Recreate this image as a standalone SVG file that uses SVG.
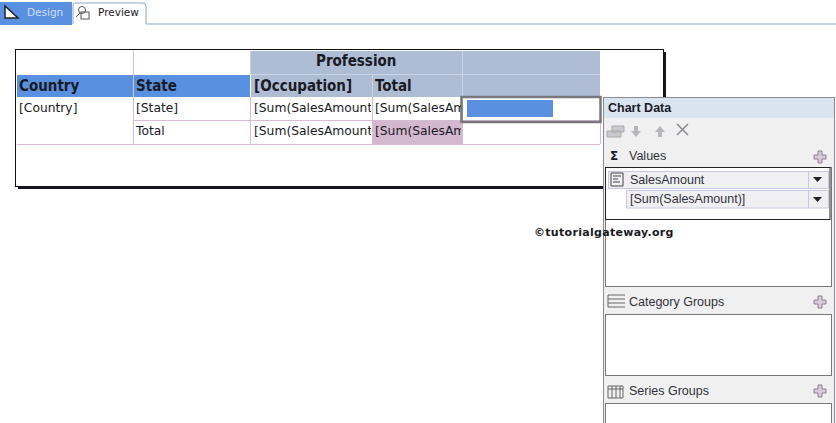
<svg xmlns="http://www.w3.org/2000/svg" width="836" height="423" viewBox="0 0 836 423">
<style>
text{font-family:"DejaVu Sans",sans-serif;fill:#1a1a24}
.b{font-family:"DejaVu Sans Condensed","DejaVu Sans",sans-serif;font-stretch:condensed;font-size:15px;font-weight:bold}
.c{font-size:12.300px}
.p{font-family:"Liberation Sans",sans-serif;font-size:12.500px;fill:#30303a}
.g{stroke:#d6bcd2;stroke-width:1;fill:none}
.w{stroke:#c9d3e3;stroke-width:1;fill:none}
.pl{fill:#d8c8d8;stroke:#8f7f95;stroke-width:1}
.bx{fill:#fff;stroke:#77777c;stroke-width:1}
.ic{fill:none;stroke:#55555c;stroke-width:1}
.row{fill:#f0f0f3;stroke:#c8c8e0}
</style>
<rect width="836" height="423" fill="#fff"/>
<g id="tabs">
<rect x="0" y="2" width="72" height="23" fill="#5a90e0"/>
<path d="M5 6L5 18L18 18Z" fill="#fff" stroke="#222" stroke-width="1.500"/>
<text x="27" y="16" style="font-size:10.500px;fill:#cfdcf2">Design</text>
<path d="M73 24V5Q73 3 75 3H143Q146 3 146 6V24H836" fill="none" stroke="#8fa3bf" stroke-width="1"/>
<circle cx="82" cy="10" r="3.500" class="ic"/><path d="M80 13L76 17" class="ic"/><rect x="81" y="12" width="8" height="7" class="ic"/>
<text x="98" y="16" style="font-size:10.500px">Preview</text>
</g>
<g id="report">
<rect x="18" y="52" width="648" height="137" fill="#16141c"/>
<rect x="15.500" y="49.500" width="648" height="137" fill="#fff" stroke="#111" stroke-width="1"/>
</g>
<g id="table">
<rect x="251" y="51" width="349" height="46" fill="#aebdd4"/>
<rect x="17" y="75" width="233" height="22" fill="#5a90e0"/>
<rect x="372" y="121" width="91" height="23" fill="#d4b8d0"/>
<path class="g" d="M133.500 51V144M17 144.500H600M133 120.500H600M250.500 97V144M372.500 97V144M462.500 97V144M600.500 97V144"/>
<path class="w" d="M251 74.500H600M372.500 74V97M462.500 51V97M250.500 51V75"/>
<rect x="461.500" y="97" width="139" height="25" fill="none" stroke="#77777c" stroke-width="2.500"/>
<rect x="467" y="100" width="86" height="17" fill="#5a90e0"/>
<text x="316" y="66" class="b">Profession</text>
<text x="19" y="91" class="b">Country</text>
<text x="136" y="91" class="b">State</text>
<text x="254" y="91" class="b">[Occupation]</text>
<text x="375" y="91" class="b">Total</text>
<text x="19" y="112" class="c">[Country]</text>
<text x="136" y="112" class="c">[State]</text>
<text x="136" y="135" class="c">Total</text>
<svg x="250" y="97" width="121" height="47" viewBox="250 97 121 47"><text x="254" y="112" class="c">[Sum(SalesAmount)]</text><text x="254" y="135" class="c">[Sum(SalesAmount)]</text></svg>
<svg x="372" y="97" width="89" height="47" viewBox="372 97 89 47"><text x="375" y="112" class="c">[Sum(SalesAmount)]</text><text x="375" y="135" class="c">[Sum(SalesAmount)]</text></svg>
</g>
<g id="chart-data">
<rect x="603.500" y="97.500" width="231" height="326" fill="#f0f0f0" stroke="#8a8a90" stroke-width="1"/>
<rect x="604" y="98" width="230" height="20" fill="#d9e4f1"/>
<text x="608" y="112" style="font-family:'Liberation Sans',sans-serif;font-size:12.500px;font-weight:bold">Chart Data</text>
<path d="M607 131h14v6h-14zM612 126h12v6h-12z" fill="#c8c8d0" stroke="#aaa"/>
<path d="M634 126h4v5h3l-5 6-5-6h3z" fill="#b5b5bb"/>
<path d="M658 137h4v-5h3l-5-6-5 6h3z" fill="#b5b5bb"/>
<path d="M677 124L688 135M688 124L677 135" stroke="#8a8a92" stroke-width="1.500"/>
<text x="610" y="160" style="font-size:12px;font-weight:bold">Σ</text>
<text x="629" y="160" class="p">Values</text>
<path class="pl" d="M818 151h4v4h4v4h-4v4h-4v-4h-4v-4h4z"/>
<rect x="605.500" y="167.500" width="226" height="119" class="bx"/>
<rect x="605.500" y="167.500" width="224.500" height="52" fill="#fff" stroke="#222" stroke-width="1"/>
<rect x="608.500" y="171.500" width="220" height="17" class="row"/>
<rect x="626.500" y="190.500" width="202" height="17.500" class="row"/>
<path d="M808.500 171V189M808.500 191V208" stroke="#c8c8e0"/>
<path d="M813 177h9l-4.500 5zM813 197h9l-4.500 5z" fill="#222"/>
<path d="M611 173h12v13h-12zM613 176h8M613 179h5M613 182h7" fill="none" stroke="#444"/>
<text x="630" y="184" class="p">SalesAmount</text>
<text x="630" y="203" class="p">[Sum(SalesAmount)]</text>
<path d="M608 295h17M608 299h17M608 303h17M608 307h17M608 295v12" fill="none" stroke="#666"/>
<text x="629" y="306" class="p">Category Groups</text>
<path class="pl" d="M818 296h4v4h4v4h-4v4h-4v-4h-4v-4h4z"/>
<rect x="605.500" y="314.500" width="226" height="61" class="bx"/>
<path d="M608 386h15v12h-15zM608 389h15M612 386v12M616 386v12M620 386v12" fill="none" stroke="#666"/>
<text x="629" y="395" class="p">Series Groups</text>
<path class="pl" d="M818 385h4v4h4v4h-4v4h-4v-4h-4v-4h4z"/>
<rect x="605.500" y="403.500" width="226" height="30" class="bx"/>
</g>
<text id="watermark" x="534" y="236" style="font-size:11px;font-weight:bold;letter-spacing:.3px">©tutorialgateway.org</text>
</svg>
